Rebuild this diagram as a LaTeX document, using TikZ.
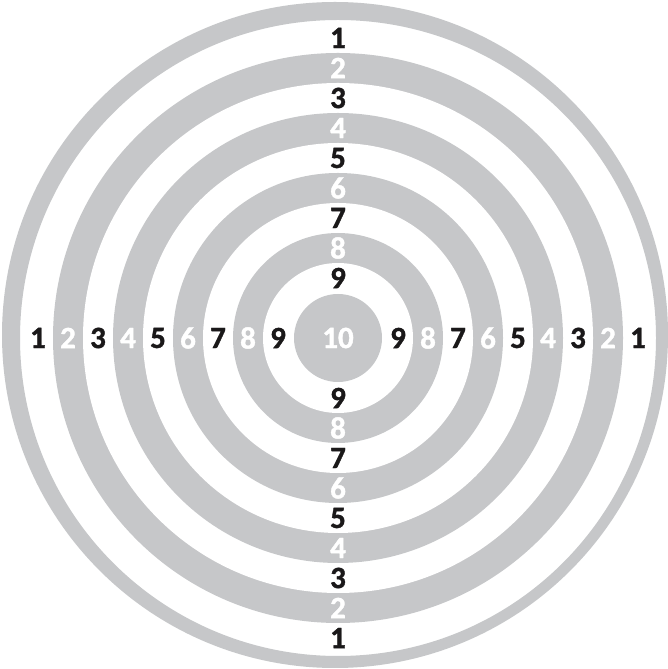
\documentclass[tikz,border=0pt]{standalone}
\usepackage{fontspec}
\setmainfont{Carlito}
\newfontfamily\digitfont{Carlito}[FakeBold=1.2]
\definecolor{ringgray}{RGB}{198,199,201}
\definecolor{ink}{RGB}{26,24,25}
\begin{document}
\begin{tikzpicture}[x=1pt,y=1pt,
  lbl/.style={font=\digitfont\bfseries\fontsize{31}{31}\selectfont, inner sep=0pt, anchor=center},
  dark/.style={lbl, text=ink},
  light/.style={lbl, text=white}]
\useasboundingbox (0,0) rectangle (668,669);
\fill[white] (0,0) rectangle (668,669);
\coordinate (c) at (338,331);
% outer ring
\fill[ringgray, even odd rule] (335,334) circle (333) (c) circle (318);
% gray bands
\foreach \r in {285,225,165,105}{
  \fill[ringgray] (c) circle (\r);
  \fill[white] (c) circle (\r-30);
}
\fill[ringgray] (c) circle (44);
% labels
\foreach \k in {1,...,9}{
  \pgfmathsetmacro{\r}{300-30*(\k-1)}
  \ifodd\k \def\sty{dark}\else\def\sty{light}\fi
  \node[\sty] (L\k) at (338-\r,331) {\k};
  \node[\sty] (R\k) at (338+\r,331) {\k};
  \node[\sty] (T\k) at (338,331+\r) {\k};
  \node[\sty] (B\k) at (338,331-\r) {\k};
}
\node[light] (ten) at (c) {10};
\end{tikzpicture}
\end{document}
